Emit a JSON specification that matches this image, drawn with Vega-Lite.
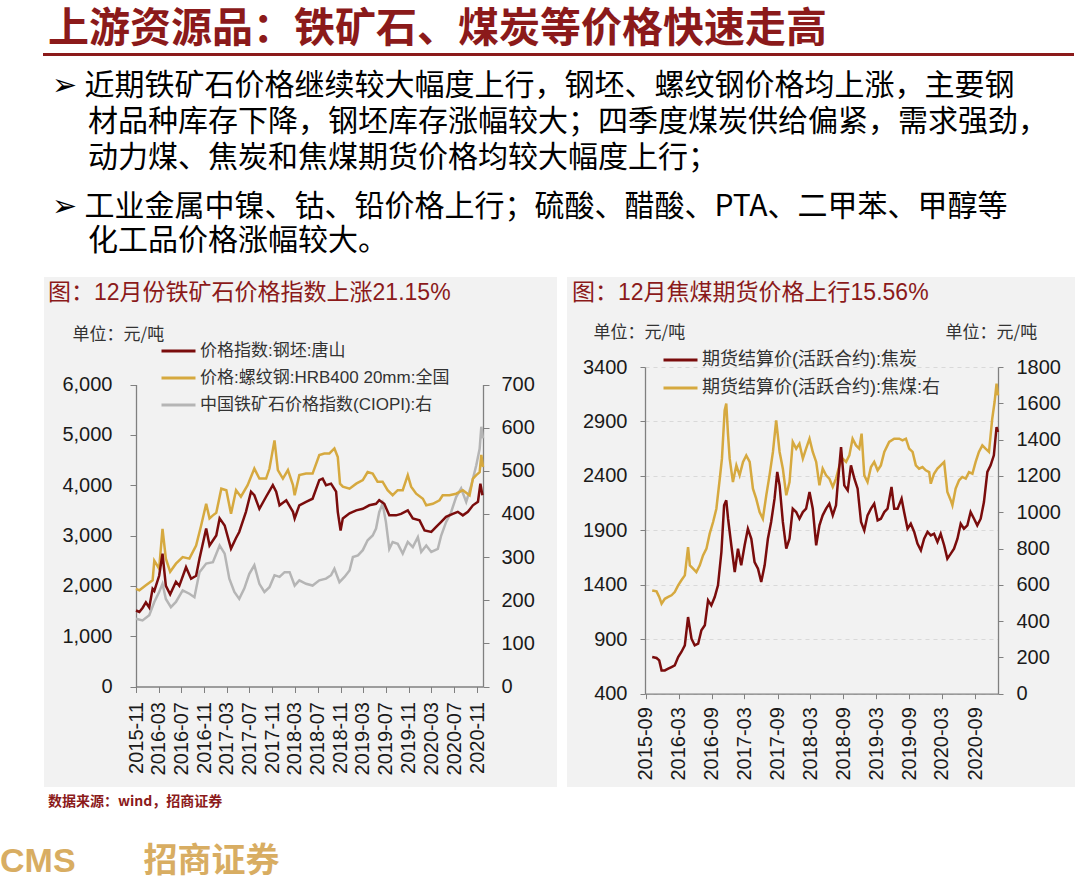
{
  "$schema": "https://vega.github.io/schema/vega-lite/v6.json",
  "background": "white",
  "padding": {"left": 0, "top": 8, "right": 4, "bottom": 0},
  "spacing": 15,
  "config": {
    "view": {"stroke": null},
    "title": {"font": "Noto Sans CJK SC", "subtitleFont": "Noto Sans CJK SC", "anchor": "start"},
    "axis": {"labelFont": "Liberation Sans", "labelFontSize": 20, "labelColor": "#1a1a1a", "domainColor": "#808080", "tickColor": "#808080", "domainWidth": 1.3, "grid": false, "labelFlush": false, "labelOverlap": false, "titleFont": "Noto Sans CJK SC", "titleFontSize": 17, "titleFontWeight": "normal", "titleColor": "#333333"},
    "legend": {"symbolType": "stroke", "symbolSize": 1156, "symbolStrokeWidth": 3, "labelFont": "Liberation Sans, Noto Sans CJK SC", "labelFontSize": 17, "labelColor": "#333333", "labelLimit": 600, "rowPadding": 0, "padding": 0, "labelOffset": 3, "title": null}
  },
  "datasets": {
    "billet": [
      {"date":"2015-11-01","value":1510},{"date":"2015-11-19","value":1480},{"date":"2015-12-06","value":1560},{"date":"2015-12-24","value":1670},
      {"date":"2016-01-11","value":1570},{"date":"2016-01-29","value":1940},{"date":"2016-02-07","value":1900},{"date":"2016-03-04","value":2200},
      {"date":"2016-03-22","value":2640},{"date":"2016-04-09","value":2000},{"date":"2016-05-02","value":1830},{"date":"2016-06-02","value":2080},
      {"date":"2016-06-20","value":2000},{"date":"2016-07-26","value":2370},{"date":"2016-08-22","value":2140},{"date":"2016-09-18","value":2200},
      {"date":"2016-10-06","value":2540},{"date":"2016-11-11","value":3140},{"date":"2016-11-29","value":2800},{"date":"2016-12-17","value":2900},
      {"date":"2017-01-04","value":3000},{"date":"2017-01-22","value":3340},{"date":"2017-02-18","value":3200},{"date":"2017-03-24","value":2740},
      {"date":"2017-04-20","value":2950},{"date":"2017-05-07","value":3070},{"date":"2017-06-12","value":3470},{"date":"2017-07-09","value":3870},
      {"date":"2017-07-27","value":3800},{"date":"2017-08-23","value":3530},{"date":"2017-09-28","value":3770},{"date":"2017-11-03","value":4000},
      {"date":"2017-11-21","value":3870},{"date":"2017-12-09","value":3600},{"date":"2018-01-14","value":3700},{"date":"2018-02-19","value":3470},
      {"date":"2018-02-28","value":3340},{"date":"2018-03-25","value":3600},{"date":"2018-04-30","value":3670},{"date":"2018-06-04","value":3730},
      {"date":"2018-07-10","value":4100},{"date":"2018-07-28","value":4130},{"date":"2018-08-15","value":4000},{"date":"2018-09-11","value":4030},
      {"date":"2018-10-08","value":3870},{"date":"2018-10-17","value":3470},{"date":"2018-11-01","value":3100},{"date":"2018-11-13","value":3340},
      {"date":"2018-12-19","value":3440},{"date":"2019-01-24","value":3500},{"date":"2019-02-28","value":3530},{"date":"2019-04-04","value":3600},
      {"date":"2019-05-10","value":3630},{"date":"2019-05-27","value":3700},{"date":"2019-06-23","value":3630},{"date":"2019-07-20","value":3400},
      {"date":"2019-08-25","value":3400},{"date":"2019-09-21","value":3430},{"date":"2019-10-27","value":3500},{"date":"2019-11-23","value":3340},
      {"date":"2019-12-29","value":3300},{"date":"2020-01-25","value":3100},{"date":"2020-03-01","value":3070},{"date":"2020-03-27","value":3170},
      {"date":"2020-04-23","value":3270},{"date":"2020-05-19","value":3370},{"date":"2020-06-24","value":3430},{"date":"2020-07-21","value":3470},
      {"date":"2020-08-17","value":3400},{"date":"2020-09-13","value":3470},{"date":"2020-10-10","value":3600},{"date":"2020-11-06","value":3670},
      {"date":"2020-11-19","value":4030},{"date":"2020-11-30","value":3800}
    ],
    "rebar": [
      {"date":"2015-11-01","value":1940},{"date":"2015-11-19","value":1910},{"date":"2015-12-24","value":2010},{"date":"2016-01-29","value":2110},
      {"date":"2016-02-07","value":2500},{"date":"2016-03-04","value":2340},{"date":"2016-03-22","value":3130},{"date":"2016-04-09","value":2540},
      {"date":"2016-05-02","value":2280},{"date":"2016-06-02","value":2440},{"date":"2016-07-08","value":2570},{"date":"2016-08-13","value":2540},
      {"date":"2016-09-18","value":2800},{"date":"2016-10-15","value":3200},{"date":"2016-11-11","value":3630},{"date":"2016-11-29","value":3340},
      {"date":"2016-12-17","value":3400},{"date":"2017-01-04","value":3450},{"date":"2017-01-31","value":3930},{"date":"2017-02-27","value":3900},
      {"date":"2017-03-24","value":3430},{"date":"2017-04-20","value":3900},{"date":"2017-05-16","value":3770},{"date":"2017-06-21","value":4000},
      {"date":"2017-07-27","value":4330},{"date":"2017-08-23","value":4130},{"date":"2017-09-28","value":4130},{"date":"2017-10-16","value":4330},
      {"date":"2017-11-12","value":4890},{"date":"2017-11-30","value":4300},{"date":"2017-12-27","value":4130},{"date":"2018-01-23","value":4300},
      {"date":"2018-02-19","value":4000},{"date":"2018-02-28","value":3800},{"date":"2018-03-25","value":4200},{"date":"2018-04-30","value":4230},
      {"date":"2018-06-04","value":4230},{"date":"2018-07-10","value":4600},{"date":"2018-08-06","value":4630},{"date":"2018-09-02","value":4630},
      {"date":"2018-09-29","value":4730},{"date":"2018-10-17","value":4560},{"date":"2018-10-29","value":4030},{"date":"2018-11-13","value":3970},
      {"date":"2018-12-19","value":3930},{"date":"2019-01-24","value":4030},{"date":"2019-02-28","value":4100},{"date":"2019-03-26","value":4260},
      {"date":"2019-04-22","value":4230},{"date":"2019-05-18","value":4070},{"date":"2019-06-14","value":4070},{"date":"2019-07-11","value":3900},
      {"date":"2019-08-07","value":3800},{"date":"2019-09-03","value":3900},{"date":"2019-09-30","value":3900},{"date":"2019-10-27","value":4200},
      {"date":"2019-11-14","value":3970},{"date":"2019-12-11","value":3830},{"date":"2020-01-16","value":3730},{"date":"2020-02-03","value":3600},
      {"date":"2020-03-09","value":3630},{"date":"2020-04-14","value":3700},{"date":"2020-05-01","value":3800},{"date":"2020-06-06","value":3800},
      {"date":"2020-07-12","value":3830},{"date":"2020-08-17","value":3900},{"date":"2020-09-22","value":3800},{"date":"2020-10-10","value":4130},
      {"date":"2020-10-28","value":4200},{"date":"2020-11-15","value":4260},{"date":"2020-11-24","value":4600},{"date":"2020-12-03","value":4360}
    ],
    "ore": [
      {"date":"2015-11-01","value":157},{"date":"2015-12-06","value":153},{"date":"2016-01-11","value":165},{"date":"2016-02-07","value":196},
      {"date":"2016-03-04","value":219},{"date":"2016-03-22","value":238},{"date":"2016-04-09","value":203},{"date":"2016-05-06","value":184},
      {"date":"2016-06-02","value":196},{"date":"2016-07-08","value":223},{"date":"2016-08-13","value":215},{"date":"2016-09-09","value":207},
      {"date":"2016-10-06","value":265},{"date":"2016-11-11","value":285},{"date":"2016-12-17","value":288},{"date":"2017-01-22","value":327},
      {"date":"2017-02-18","value":308},{"date":"2017-03-15","value":250},{"date":"2017-04-11","value":219},{"date":"2017-05-07","value":203},
      {"date":"2017-06-03","value":227},{"date":"2017-06-30","value":261},{"date":"2017-07-27","value":281},{"date":"2017-08-23","value":238},
      {"date":"2017-09-19","value":219},{"date":"2017-10-16","value":230},{"date":"2017-11-12","value":258},{"date":"2017-12-09","value":254},
      {"date":"2018-01-05","value":265},{"date":"2018-02-01","value":265},{"date":"2018-02-28","value":234},{"date":"2018-03-25","value":246},
      {"date":"2018-04-30","value":238},{"date":"2018-06-04","value":234},{"date":"2018-07-10","value":246},{"date":"2018-08-15","value":250},
      {"date":"2018-09-11","value":258},{"date":"2018-09-29","value":273},{"date":"2018-10-26","value":242},{"date":"2018-11-22","value":254},
      {"date":"2018-12-19","value":269},{"date":"2019-01-06","value":300},{"date":"2019-02-02","value":304},{"date":"2019-02-28","value":316},
      {"date":"2019-03-26","value":339},{"date":"2019-04-22","value":350},{"date":"2019-05-10","value":366},{"date":"2019-05-27","value":404},
      {"date":"2019-06-14","value":424},{"date":"2019-07-02","value":381},{"date":"2019-07-20","value":319},{"date":"2019-08-07","value":335},
      {"date":"2019-09-03","value":331},{"date":"2019-09-30","value":308},{"date":"2019-10-27","value":335},{"date":"2019-11-23","value":323},
      {"date":"2019-12-20","value":346},{"date":"2020-01-07","value":312},{"date":"2020-02-03","value":327},{"date":"2020-03-01","value":312},
      {"date":"2020-04-05","value":319},{"date":"2020-04-23","value":350},{"date":"2020-05-19","value":381},{"date":"2020-06-15","value":404},
      {"date":"2020-07-12","value":439},{"date":"2020-08-08","value":459},{"date":"2020-09-04","value":428},{"date":"2020-10-01","value":466},
      {"date":"2020-10-28","value":513},{"date":"2020-11-15","value":551},{"date":"2020-11-24","value":602},{"date":"2020-12-03","value":575}
    ],
    "coke": [
      {"date":"2015-10-06","value":737},{"date":"2015-10-30","value":728},{"date":"2015-11-14","value":706},{"date":"2015-11-27","value":614},
      {"date":"2015-12-15","value":614},{"date":"2016-01-03","value":630},{"date":"2016-01-21","value":645},{"date":"2016-02-08","value":660},
      {"date":"2016-02-27","value":737},{"date":"2016-03-16","value":783},{"date":"2016-04-04","value":844},{"date":"2016-04-22","value":1104},
      {"date":"2016-05-11","value":905},{"date":"2016-05-29","value":844},{"date":"2016-06-17","value":859},{"date":"2016-07-05","value":982},
      {"date":"2016-07-24","value":1028},{"date":"2016-08-11","value":1257},{"date":"2016-08-29","value":1211},{"date":"2016-09-17","value":1288},
      {"date":"2016-10-05","value":1395},{"date":"2016-10-24","value":1701},{"date":"2016-11-08","value":2130},{"date":"2016-11-20","value":2176},
      {"date":"2016-11-30","value":2007},{"date":"2016-12-18","value":1763},{"date":"2017-01-06","value":1517},{"date":"2017-01-24","value":1732},
      {"date":"2017-02-11","value":1579},{"date":"2017-03-02","value":1763},{"date":"2017-03-20","value":1915},{"date":"2017-04-08","value":1823},
      {"date":"2017-04-26","value":1609},{"date":"2017-05-15","value":1548},{"date":"2017-06-02","value":1426},{"date":"2017-06-21","value":1579},
      {"date":"2017-07-09","value":1823},{"date":"2017-07-27","value":1977},{"date":"2017-08-15","value":2191},{"date":"2017-08-30","value":2436},
      {"date":"2017-09-12","value":2313},{"date":"2017-09-30","value":1977},{"date":"2017-10-19","value":1732},{"date":"2017-11-06","value":1823},
      {"date":"2017-11-24","value":2099},{"date":"2017-12-13","value":2068},{"date":"2017-12-31","value":2007},{"date":"2018-01-19","value":2068},
      {"date":"2018-02-06","value":2099},{"date":"2018-02-25","value":2252},{"date":"2018-03-15","value":2099},{"date":"2018-04-03","value":1763},
      {"date":"2018-04-21","value":1946},{"date":"2018-05-09","value":2038},{"date":"2018-05-28","value":2099},{"date":"2018-06-15","value":2145},
      {"date":"2018-07-04","value":2038},{"date":"2018-07-22","value":2130},{"date":"2018-07-31","value":2313},{"date":"2018-08-19","value":2665},
      {"date":"2018-09-06","value":2313},{"date":"2018-09-25","value":2267},{"date":"2018-10-13","value":2497},{"date":"2018-11-01","value":2374},
      {"date":"2018-11-19","value":2283},{"date":"2018-12-08","value":1977},{"date":"2018-12-26","value":1900},{"date":"2019-01-13","value":2038},
      {"date":"2019-02-01","value":2099},{"date":"2019-02-19","value":2145},{"date":"2019-03-10","value":1992},{"date":"2019-03-28","value":2007},
      {"date":"2019-04-16","value":2068},{"date":"2019-05-04","value":2099},{"date":"2019-05-26","value":2298},{"date":"2019-06-10","value":2099},
      {"date":"2019-06-29","value":2099},{"date":"2019-07-21","value":2191},{"date":"2019-08-04","value":2068},{"date":"2019-08-23","value":1915},
      {"date":"2019-09-10","value":1961},{"date":"2019-09-29","value":1885},{"date":"2019-10-17","value":1778},{"date":"2019-11-05","value":1716},
      {"date":"2019-11-23","value":1823},{"date":"2019-12-12","value":1885},{"date":"2019-12-30","value":1854},{"date":"2020-01-17","value":1869},
      {"date":"2020-02-05","value":1793},{"date":"2020-02-23","value":1869},{"date":"2020-03-13","value":1763},{"date":"2020-03-31","value":1640},
      {"date":"2020-04-19","value":1686},{"date":"2020-05-07","value":1732},{"date":"2020-05-26","value":1823},{"date":"2020-06-13","value":1961},
      {"date":"2020-07-01","value":1915},{"date":"2020-07-20","value":1946},{"date":"2020-08-07","value":2068},{"date":"2020-08-26","value":2007},
      {"date":"2020-09-13","value":1946},{"date":"2020-10-02","value":2007},{"date":"2020-10-20","value":2160},{"date":"2020-11-08","value":2436},
      {"date":"2020-11-26","value":2497},{"date":"2020-12-14","value":2589},{"date":"2020-12-29","value":2849},{"date":"2021-01-06","value":2803}
    ],
    "coal": [
      {"date":"2015-10-06","value":569},{"date":"2015-10-30","value":564},{"date":"2015-11-14","value":533},{"date":"2015-11-27","value":496},
      {"date":"2015-12-15","value":523},{"date":"2016-01-03","value":533},{"date":"2016-01-21","value":542},{"date":"2016-02-08","value":560},
      {"date":"2016-02-27","value":597},{"date":"2016-03-16","value":625},{"date":"2016-04-04","value":652},{"date":"2016-04-22","value":808},
      {"date":"2016-05-02","value":707},{"date":"2016-05-20","value":689},{"date":"2016-06-07","value":670},{"date":"2016-06-26","value":707},
      {"date":"2016-07-14","value":762},{"date":"2016-08-02","value":799},{"date":"2016-08-20","value":882},{"date":"2016-09-08","value":946},
      {"date":"2016-09-26","value":1019},{"date":"2016-10-15","value":1185},{"date":"2016-10-27","value":1295},{"date":"2016-11-11","value":1561},
      {"date":"2016-11-20","value":1598},{"date":"2016-11-30","value":1424},{"date":"2016-12-09","value":1295},{"date":"2016-12-27","value":1166},
      {"date":"2017-01-15","value":1258},{"date":"2017-02-02","value":1203},{"date":"2017-02-21","value":1277},{"date":"2017-03-11","value":1313},
      {"date":"2017-03-30","value":1277},{"date":"2017-04-17","value":1130},{"date":"2017-05-05","value":1075},{"date":"2017-05-24","value":1001},
      {"date":"2017-06-11","value":964},{"date":"2017-06-30","value":1093},{"date":"2017-07-18","value":1203},{"date":"2017-08-06","value":1332},
      {"date":"2017-08-24","value":1506},{"date":"2017-09-12","value":1332},{"date":"2017-09-30","value":1240},{"date":"2017-10-19","value":1093},
      {"date":"2017-11-06","value":1166},{"date":"2017-11-24","value":1387},{"date":"2017-12-13","value":1350},{"date":"2017-12-31","value":1378},
      {"date":"2018-01-19","value":1295},{"date":"2018-02-06","value":1350},{"date":"2018-02-25","value":1405},{"date":"2018-03-15","value":1332},
      {"date":"2018-04-03","value":1277},{"date":"2018-04-21","value":1148},{"date":"2018-05-09","value":1240},{"date":"2018-05-28","value":1203},
      {"date":"2018-06-15","value":1185},{"date":"2018-07-04","value":1139},{"date":"2018-07-22","value":1185},{"date":"2018-08-10","value":1258},
      {"date":"2018-08-28","value":1295},{"date":"2018-09-16","value":1277},{"date":"2018-10-04","value":1313},{"date":"2018-10-22","value":1405},
      {"date":"2018-11-10","value":1368},{"date":"2018-11-28","value":1350},{"date":"2018-12-11","value":1433},{"date":"2018-12-26","value":1203},
      {"date":"2019-01-13","value":1166},{"date":"2019-02-01","value":1249},{"date":"2019-02-19","value":1277},{"date":"2019-03-10","value":1231},
      {"date":"2019-03-28","value":1258},{"date":"2019-04-16","value":1332},{"date":"2019-05-13","value":1387},{"date":"2019-06-10","value":1405},
      {"date":"2019-07-08","value":1405},{"date":"2019-07-26","value":1396},{"date":"2019-08-14","value":1405},{"date":"2019-09-01","value":1350},
      {"date":"2019-09-20","value":1332},{"date":"2019-10-08","value":1258},{"date":"2019-10-26","value":1240},{"date":"2019-11-14","value":1249},
      {"date":"2019-12-02","value":1231},{"date":"2019-12-21","value":1221},{"date":"2019-12-30","value":1157},{"date":"2020-01-17","value":1212},
      {"date":"2020-02-05","value":1240},{"date":"2020-02-23","value":1258},{"date":"2020-03-13","value":1277},{"date":"2020-03-31","value":1111},
      {"date":"2020-04-19","value":1065},{"date":"2020-04-28","value":1038},{"date":"2020-05-16","value":1130},{"date":"2020-06-04","value":1176},
      {"date":"2020-06-22","value":1194},{"date":"2020-07-11","value":1185},{"date":"2020-07-29","value":1221},{"date":"2020-08-17","value":1212},
      {"date":"2020-09-04","value":1277},{"date":"2020-09-22","value":1332},{"date":"2020-10-11","value":1368},{"date":"2020-10-29","value":1350},
      {"date":"2020-11-17","value":1332},{"date":"2020-12-05","value":1515},{"date":"2020-12-18","value":1607},{"date":"2020-12-29","value":1708},
      {"date":"2021-01-06","value":1644}
    ]
  },
  "resolve": {"scale": {"color": "independent"}, "legend": {"color": "independent"}},
  "vconcat": [
    {
      "width": 1029, "height": 1,
      "data": {"values": []},
      "mark": "point",
      "view": {"stroke": "#8b1a1a", "strokeWidth": 2},
      "title": {"text": "上游资源品：铁矿石、煤炭等价格快速走高", "anchor": "start", "frame": "group", "dx": 4, "offset": 3, "fontSize": 41, "fontWeight": "bold", "color": "#8b1a1a"}
    },
    {
      "width": 1029, "height": 1,
      "data": {"values": []},
      "mark": "point",
      "title": {
        "text": ["➢\u2005近期铁矿石价格继续较大幅度上行，钢坯、螺纹钢价格均上涨，主要钢", "\u200b\u3000\u2009材品种库存下降，钢坯库存涨幅较大；四季度煤炭供给偏紧，需求强劲，", "\u200b\u3000\u2009动力煤、焦炭和焦煤期货价格均较大幅度上行；"],
        "subtitle": ["➢\u2005工业金属中镍、钴、铅价格上行；硫酸、醋酸、PTA、二甲苯、甲醇等", "\u200b\u3000\u2009化工品价格涨幅较大。"],
        "anchor": "start", "frame": "group", "dx": 8, "offset": 5,
        "fontSize": 30, "fontWeight": "normal", "color": "#000000", "lineHeight": 36,
        "subtitleFontSize": 30, "subtitleColor": "#000000", "subtitleLineHeight": 34, "subtitlePadding": 19
      }
    },
    {
      "spacing": 10,
      "resolve": {"scale": {"color": "independent"}, "legend": {"color": "independent"}},
      "title": {"text": "数据来源：wind，招商证券", "orient": "bottom", "anchor": "start", "dx": 4, "offset": 8, "fontSize": 14, "fontWeight": "bold", "color": "#8b1a1a"},
      "hconcat": [
        {
          "width": 513, "height": 510,
          "view": {"fill": "#f2f2f2", "stroke": null},
          "title": {"text": "图：12月份铁矿石价格指数上涨21.15%", "anchor": "start", "dx": 4, "offset": -28, "font": "Liberation Sans, Noto Sans CJK SC", "fontSize": 23, "fontWeight": "normal", "color": "#8b1a1a"},
          "encoding": {
            "x": {
              "field": "date", "type": "temporal",
              "scale": {"type": "utc", "domain": [{"year": 2015, "month": 11, "date": 1, "utc": true}, {"year": 2020, "month": 12, "date": 3, "utc": true}], "range": [92, 439], "nice": false},
              "axis": {
                "values": [
                  {"year": 2015, "month": 11, "date": 1, "utc": true}, {"year": 2016, "month": 3, "date": 1, "utc": true}, {"year": 2016, "month": 7, "date": 1, "utc": true},
                  {"year": 2016, "month": 11, "date": 1, "utc": true}, {"year": 2017, "month": 3, "date": 1, "utc": true}, {"year": 2017, "month": 7, "date": 1, "utc": true},
                  {"year": 2017, "month": 11, "date": 1, "utc": true}, {"year": 2018, "month": 3, "date": 1, "utc": true}, {"year": 2018, "month": 7, "date": 1, "utc": true},
                  {"year": 2018, "month": 11, "date": 1, "utc": true}, {"year": 2019, "month": 3, "date": 1, "utc": true}, {"year": 2019, "month": 7, "date": 1, "utc": true},
                  {"year": 2019, "month": 11, "date": 1, "utc": true}, {"year": 2020, "month": 3, "date": 1, "utc": true}, {"year": 2020, "month": 7, "date": 1, "utc": true},
                  {"year": 2020, "month": 11, "date": 1, "utc": true}
                ],
                "format": "%Y-%m", "labelAngle": 270, "offset": -100.5, "title": null, "tickSize": 6, "labelPadding": 9
              }
            },
            "color": {
              "type": "nominal",
              "scale": {"domain": ["价格指数:钢坯:唐山", "价格:螺纹钢:HRB400 20mm:全国", "中国铁矿石价格指数(CIOPI):右"], "range": ["#7a0c0c", "#d6a93f", "#b5b5b5"]},
              "legend": {"orient": "none", "legendX": 116, "legendY": 55.5}
            }
          },
          "layer": [
            {
              "data": {"name": "ore"},
              "mark": {"type": "line", "strokeWidth": 2.5},
              "encoding": {
                "color": {"datum": "中国铁矿石价格指数(CIOPI):右", "type": "nominal"},
                "y": {"field": "value", "type": "quantitative",
                  "scale": {"domain": [0, 700], "range": [409.5, 107.5], "nice": false, "zero": false},
                  "axis": {"orient": "right", "offset": -74, "values": [0, 100, 200, 300, 400, 500, 600, 700], "format": "d", "title": null, "tickSize": 6, "labelPadding": 12}}
              }
            },
            {
              "encoding": {
                "y": {"field": "value", "type": "quantitative",
                  "scale": {"domain": [0, 6000], "range": [409.5, 107.5], "nice": false, "zero": false},
                  "axis": {"orient": "left", "offset": -92, "values": [0, 1000, 2000, 3000, 4000, 5000, 6000], "format": ",.0f", "tickSize": 6, "labelPadding": 18,
                    "title": "单位：元/吨", "titleAngle": 0, "titleAlign": "left", "titleBaseline": "middle", "titleX": -64, "titleY": 57}}
              },
              "layer": [
                {"data": {"name": "rebar"}, "mark": {"type": "line", "strokeWidth": 2.5}, "encoding": {"color": {"datum": "价格:螺纹钢:HRB400 20mm:全国", "type": "nominal"}}},
                {"data": {"name": "billet"}, "mark": {"type": "line", "strokeWidth": 2.5}, "encoding": {"color": {"datum": "价格指数:钢坯:唐山", "type": "nominal"}}}
              ]
            }
          ],
          "resolve": {"scale": {"y": "independent"}}
        },
        {
          "width": 508, "height": 510,
          "view": {"fill": "#f2f2f2", "stroke": null},
          "title": {"text": "图：12月焦煤期货价格上行15.56%", "anchor": "start", "dx": 5, "offset": -28, "font": "Liberation Sans, Noto Sans CJK SC", "fontSize": 23, "fontWeight": "normal", "color": "#8b1a1a"},
          "encoding": {
            "x": {
              "field": "date", "type": "temporal",
              "scale": {"type": "utc", "domain": [{"year": 2015, "month": 8, "date": 27, "utc": true}, {"year": 2021, "month": 1, "date": 6, "utc": true}], "range": [78, 431], "nice": false},
              "axis": {
                "values": [
                  {"year": 2015, "month": 9, "date": 1, "utc": true}, {"year": 2016, "month": 3, "date": 1, "utc": true}, {"year": 2016, "month": 9, "date": 1, "utc": true},
                  {"year": 2017, "month": 3, "date": 1, "utc": true}, {"year": 2017, "month": 9, "date": 1, "utc": true}, {"year": 2018, "month": 3, "date": 1, "utc": true},
                  {"year": 2018, "month": 9, "date": 1, "utc": true}, {"year": 2019, "month": 3, "date": 1, "utc": true}, {"year": 2019, "month": 9, "date": 1, "utc": true},
                  {"year": 2020, "month": 3, "date": 1, "utc": true}, {"year": 2020, "month": 9, "date": 1, "utc": true}
                ],
                "format": "%Y-%m", "labelAngle": 270, "offset": -93.3, "title": null, "tickSize": 5, "labelPadding": 8
              }
            },
            "color": {
              "type": "nominal",
              "scale": {"domain": ["期货结算价(活跃合约):焦炭", "期货结算价(活跃合约):焦煤:右"], "range": ["#7a0c0c", "#d6a93f"]},
              "legend": {"orient": "none", "legendX": 95, "legendY": 64.5, "labelFontSize": 18}
            }
          },
          "layer": [
            {
              "data": {"name": "coal"},
              "mark": {"type": "line", "strokeWidth": 2.5},
              "encoding": {
                "color": {"datum": "期货结算价(活跃合约):焦煤:右", "type": "nominal"},
                "y": {"field": "value", "type": "quantitative",
                  "scale": {"domain": [0, 1800], "range": [416.7, 90], "nice": false, "zero": false},
                  "axis": {"orient": "right", "offset": -77, "values": [0, 200, 400, 600, 800, 1000, 1200, 1400, 1600, 1800], "format": "d", "tickSize": 5, "labelPadding": 13,
                    "title": "单位：元/吨", "titleAngle": 0, "titleAlign": "left", "titleBaseline": "middle", "titleX": -53, "titleY": 55}}
              }
            },
            {
              "data": {"name": "coke"},
              "mark": {"type": "line", "strokeWidth": 2.5},
              "encoding": {
                "color": {"datum": "期货结算价(活跃合约):焦炭", "type": "nominal"},
                "y": {"field": "value", "type": "quantitative",
                  "scale": {"domain": [400, 3400], "range": [416.7, 90], "nice": false, "zero": false},
                  "axis": {"orient": "left", "offset": -78, "values": [400, 900, 1400, 1900, 2400, 2900, 3400], "format": "d", "tickSize": 5, "labelPadding": 13,
                    "grid": true, "gridDash": [4, 4], "gridColor": "#d9d9d9",
                    "title": "单位：元/吨", "titleAngle": 0, "titleAlign": "left", "titleBaseline": "middle", "titleX": -52, "titleY": 55}}
              }
            }
          ],
          "resolve": {"scale": {"y": "independent"}}
        }
      ]
    },
    {
      "width": 1029, "height": 1,
      "data": {"values": []},
      "mark": "point",
      "title": {"text": "CMS\u3000\u3000招商证券", "orient": "bottom", "anchor": "start", "dx": -44, "offset": 20, "font": "Liberation Sans, Noto Sans CJK SC", "fontSize": 34, "fontWeight": "bold", "color": "#d8ad62"}
    }
  ]
}
